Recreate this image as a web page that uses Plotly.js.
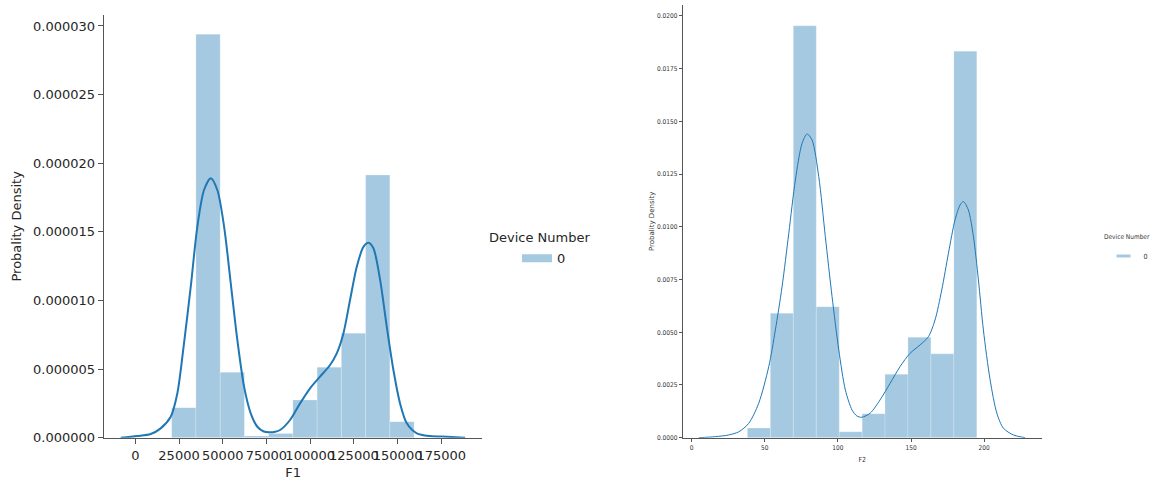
<!DOCTYPE html>
<html>
<head>
<meta charset="utf-8">
<script src="https://cdn.plot.ly/plotly-3.0.1.min.js"></script>
<style>html,body{margin:0;padding:0;background:#fff;}#chart{width:1153px;height:480px;}</style>
</head>
<body>
<div id="chart"></div>
<script>
// ---- F1 (left panel) ----
const f1BinEdges = [20800, 34660, 48530, 62390, 76250, 90110, 103970, 117840, 131700, 145560, 159420];
const f1Density = [2.19e-6, 2.94e-5, 4.77e-6, 1.2e-7, 3.0e-7, 2.75e-6, 5.13e-6, 7.61e-6, 1.914e-5, 1.17e-6];
const f1KdeX = [-8350, 1150, 8800, 14500, 20250, 24050, 27850, 31700, 35500, 39300, 43150, 46900, 50750, 54580, 58350, 62200, 66000, 69800, 73500, 76500, 80000, 82780, 88500, 94220, 99940, 105660, 111380, 115200, 119000, 122800, 126650, 130450, 133300, 136150, 140000, 143800, 147600, 151400, 155250, 161000, 168600, 178150, 188600];
const f1KdeY = [0, 1.2e-7, 2.7e-7, 6.8e-7, 1.53e-6, 3.24e-6, 6.88e-6, 1.10e-5, 1.54e-5, 1.805e-5, 1.89e-5, 1.805e-5, 1.54e-5, 1.125e-5, 7.12e-6, 3.72e-6, 1.78e-6, 8.0e-7, 4.5e-7, 3.9e-7, 4.3e-7, 5.6e-7, 1.29e-6, 2.5e-6, 3.6e-6, 4.45e-6, 5.3e-6, 6.15e-6, 7.6e-6, 1.003e-5, 1.246e-5, 1.39e-5, 1.42e-5, 1.38e-5, 1.15e-5, 8.09e-6, 4.93e-6, 2.5e-6, 1.05e-6, 3.2e-7, 1.2e-7, 7e-8, 0];
const f1TickVals = [0, 25000, 50000, 75000, 100000, 125000, 150000, 175000];

// ---- F2 (right panel) ----
const f2BinEdges = [38.1, 53.8, 69.5, 85.2, 100.9, 116.6, 132.2, 147.9, 163.6, 179.3, 195.0];
const f2Density = [0.00046, 0.0059, 0.01953, 0.00621, 0.00028, 0.00114, 0.00301, 0.00476, 0.00398, 0.01833];
const f2KdeX = [4.8, 16.2, 25.3, 32.2, 39, 45.8, 52.7, 57.2, 61.8, 66.4, 70.9, 75.5, 78.9, 82.3, 86.9, 91.4, 96, 100.6, 105.1, 109.7, 113, 116.3, 122, 128.8, 135.7, 142.5, 149.3, 156.2, 161.9, 166.4, 171, 175.6, 180.1, 183.6, 185.8, 189.2, 192.7, 196.1, 199.5, 204.1, 208.7, 213.2, 220, 228];
const f2KdeY = [0, 5e-5, 1.3e-4, 2.8e-4, 6.8e-4, 1.63e-3, 3.37e-3, 5.1e-3, 7.16e-3, 9.69e-3, 1.222e-2, 1.396e-2, 1.44e-2, 1.412e-2, 1.238e-2, 9.53e-3, 6.69e-3, 4.16e-3, 2.26e-3, 1.31e-3, 1.03e-3, 9.7e-4, 1.16e-3, 1.79e-3, 2.58e-3, 3.37e-3, 4.0e-3, 4.4e-3, 4.79e-3, 5.58e-3, 7.0e-3, 8.75e-3, 1.033e-2, 1.104e-2, 1.12e-2, 1.08e-2, 9.53e-3, 7.48e-3, 5.11e-3, 2.74e-3, 1.16e-3, 4.5e-4, 1.3e-4, 0];
const f2TickVals = [0, 50, 100, 150, 200];

const legendTitle = 'Device Number';
const seriesName = '0';

const barColor = 'rgb(165,201,225)';
const lineColor = '#1f77b4';

function lefts(edges) { return edges.slice(0, -1); }
function widths(edges) { return edges.slice(1).map((e, i) => e - edges[i]); }

const traces = [
  {type: 'bar', x: lefts(f1BinEdges), y: f1Density, width: widths(f1BinEdges), offset: 0,
   marker: {color: barColor, line: {color: 'rgba(255,255,255,0.35)', width: 0.6}},
   xaxis: 'x', yaxis: 'y', showlegend: false, hoverinfo: 'skip'},
  {type: 'scatter', mode: 'lines', x: f1KdeX, y: f1KdeY, line: {color: lineColor, width: 2, shape: 'spline', smoothing: 0.8},
   xaxis: 'x', yaxis: 'y', showlegend: false},
  {type: 'scatter', mode: 'lines', x: [null], y: [null], name: seriesName, line: {color: barColor, width: 8},
   xaxis: 'x', yaxis: 'y', legend: 'legend', showlegend: true},
  {type: 'bar', x: lefts(f2BinEdges), y: f2Density, width: widths(f2BinEdges), offset: 0,
   marker: {color: barColor, line: {color: 'rgba(255,255,255,0.35)', width: 0.6}},
   xaxis: 'x2', yaxis: 'y2', showlegend: false, hoverinfo: 'skip'},
  {type: 'scatter', mode: 'lines', x: f2KdeX, y: f2KdeY, line: {color: lineColor, width: 1, shape: 'spline', smoothing: 0.8},
   xaxis: 'x2', yaxis: 'y2', showlegend: false},
  {type: 'scatter', mode: 'markers', x: [null], y: [null], name: seriesName,
   marker: {symbol: 'line-ew', size: 10, color: barColor, line: {color: barColor, width: 3}},
   xaxis: 'x2', yaxis: 'y2', legend: 'legend2', showlegend: true}
];

const axCommon = {showgrid: false, zeroline: false, showline: true, linecolor: '#555', ticks: 'outside', tickcolor: '#555', automargin: false};
const bigFont = {family: 'DejaVu Sans', size: 13, color: '#262626'};
const narrowFam = 'Liberation Sans Narrow, DejaVu Sans Condensed, sans-serif';
const smallFont = {family: narrowFam, size: 6.5, color: '#333'};

const layout = {
  width: 1153, height: 480,
  margin: {l: 0, r: 0, t: 0, b: 0, autoexpand: false},
  paper_bgcolor: '#fff', plot_bgcolor: '#fff',
  bargap: 0,
  xaxis: Object.assign({}, axCommon, {domain: [0.0902, 0.4181], anchor: 'y', range: [-17900, 198300],
    tickvals: f1TickVals, tickformat: 'd', tickangle: 0, ticklen: 5, linewidth: 1.3, tickfont: bigFont,
    title: {text: 'F1', font: bigFont, standoff: 6}}),
  yaxis: Object.assign({}, axCommon, {domain: [0.0881, 0.9688], anchor: 'x', range: [0, 3.08e-5],
    dtick: 5e-6, tick0: 0, tickformat: '.6f', ticklen: 5, linewidth: 1.3, tickfont: bigFont,
    title: {text: 'Probality Density', font: bigFont, standoff: 8}}),
  xaxis2: Object.assign({}, axCommon, {domain: [0.5921, 0.9035], anchor: 'y2', range: [-6.16, 239.4],
    tickvals: f2TickVals, tickangle: 0, ticklen: 3, linewidth: 1, tickfont: smallFont,
    title: {text: 'F2', font: {family: narrowFam, size: 7, color: '#333'}, standoff: 6}}),
  yaxis2: Object.assign({}, axCommon, {domain: [0.0881, 0.9896], anchor: 'x2', range: [0, 0.02052],
    dtick: 0.0025, tick0: 0, tickformat: '.4f', ticklen: 3, linewidth: 1, tickfont: smallFont,
    title: {text: 'Probality Density', font: {family: 'DejaVu Sans', size: 7, color: '#333'}, standoff: 1}}),
  legend: {x: 0.4484, xanchor: 'left', y: 0.4933, yanchor: 'top', bgcolor: 'rgba(0,0,0,0)', font: bigFont},
  legend2: {x: 0.9571, xanchor: 'left', y: 0.497, yanchor: 'top', bgcolor: 'rgba(0,0,0,0)',
    font: {family: narrowFam, size: 7, color: '#333'}},
  annotations: [
    {text: legendTitle, xref: 'paper', yref: 'paper', x: 539 / 1153, y: 1 - 237 / 480, xanchor: 'center', yanchor: 'middle',
     showarrow: false, font: bigFont},
    {text: legendTitle, xref: 'paper', yref: 'paper', x: 1127 / 1153, y: 1 - 237 / 480, xanchor: 'center', yanchor: 'middle',
     showarrow: false, font: {family: narrowFam, size: 6.5, color: '#333'}}
  ]
};

Plotly.newPlot('chart', traces, layout, {displayModeBar: false, staticPlot: true});
</script>
</body>
</html>
